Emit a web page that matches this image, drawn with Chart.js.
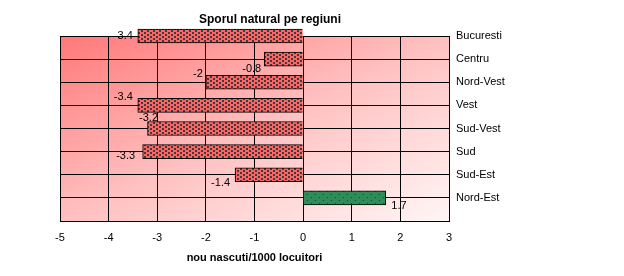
<!DOCTYPE html>
<html>
<head>
<meta charset="utf-8">
<script src="https://cdn.jsdelivr.net/npm/chart.js"></script>
<style>
  html, body { margin: 0; padding: 0; background: #fff; }
</style>
</head>
<body>
<canvas id="chart" width="624" height="276"></canvas>
<script>
// date: spor natural pe regiuni
const regions = ["Bucuresti", "Centru", "Nord-Vest", "Vest", "Sud-Vest", "Sud", "Sud-Est", "Nord-Est"];
const values = [-3.4, -0.8, -2, -3.4, -3.2, -3.3, -1.4, 1.7];
const xMin = -5;
const xMax = 3;
const xStep = 1;

const FONT = '"Liberation Sans", Arial, sans-serif';

// motive de umplere pentru bare
function makePattern(bg, fg, w, h, dots) {
    const c = document.createElement("canvas");
    c.width = w;
    c.height = h;
    const g = c.getContext("2d");
    g.fillStyle = bg;
    g.fillRect(0, 0, w, h);
    g.fillStyle = fg;
    dots.forEach(d => g.fillRect(d[0], d[1], d[2], d[3]));
    return g.createPattern(c, "repeat");
}
const redPattern = makePattern("#ff6464", "#3c3c3c", 6, 4, [[0, 0, 2, 2], [3, 2, 2, 2]]);
const greenPattern = makePattern("#2e8b5a", "#1c4a30", 8, 6, [[3, 2, 1, 1], [7, 5, 1, 1]]);

// fundal in degrade pe zona graficului
const plotBackground = {
    id: "plotBackground",
    beforeDraw(chart) {
        const { ctx, chartArea: a } = chart;
        const w = a.right - a.left, h = a.bottom - a.top;
        const len = Math.sqrt(w * w + h * h);
        const proj = (2 * w * h) / len;
        const g = ctx.createLinearGradient(a.left, a.top,
            a.left + h / len * proj, a.top + w / len * proj);
        g.addColorStop(0, "#ff7878");
        g.addColorStop(0.5, "#ffc0c0");
        g.addColorStop(1, "#fff6f6");
        ctx.save();
        ctx.fillStyle = g;
        ctx.fillRect(a.left, a.top, w, h);
        ctx.restore();
    }
};

// titlul, centrat ca in original (putin spre dreapta fata de zona graficului)
const chartTitle = {
    id: "chartTitle",
    afterDraw(chart, args, opts) {
        const ctx = chart.ctx;
        ctx.save();
        ctx.font = "bold 12px " + FONT;
        ctx.fillStyle = "#000";
        ctx.textAlign = "center";
        ctx.textBaseline = "middle";
        ctx.fillText(opts.text, chart.width / 2 + opts.shift, opts.y);
        ctx.restore();
    }
};

// etichete de valori (desenate sub bare, ca in original)
const valueLabels = {
    id: "valueLabels",
    beforeDatasetsDraw(chart, args, opts) {
        const ctx = chart.ctx;
        const meta = chart.getDatasetMeta(0);
        ctx.save();
        ctx.font = "11px " + FONT;
        ctx.fillStyle = "#000";
        ctx.textBaseline = "middle";
        meta.data.forEach((bar, i) => {
            const v = values[i];
            ctx.textAlign = v < 0 ? "right" : "left";
            ctx.fillText(String(v), bar.x + opts.dx[i], bar.y + opts.dy[i]);
        });
        ctx.restore();
    }
};

new Chart(document.getElementById("chart"), {
    type: "bar",
    data: {
        labels: [...regions, ""],
        datasets: [{
            data: values,
            backgroundColor: ctx => (ctx.raw < 0 ? redPattern : greenPattern),
            borderColor: "#000",
            borderWidth: 1,
            barThickness: 14,
            clip: false
        }]
    },
    options: {
        indexAxis: "y",
        responsive: false,
        animation: false,
        devicePixelRatio: 1,
        layout: { padding: { left: 60, right: 0, top: 36, bottom: 0 } },
        plugins: {
            legend: { display: false },
            tooltip: { enabled: false },
            title: { display: false },
            chartTitle: { text: "Sporul natural pe regiuni", shift: -42, y: 20 },
            valueLabels: {
                dx: [-5, -3, -3, -5, 10.5, -7.5, -5, 5.5],
                dy: [0, 9.5, -8.5, -8.5, -10.5, 4.5, 8.5, 8.5]
            }
        },
        scales: {
            x: {
                type: "linear",
                min: xMin,
                max: xMax,
                ticks: {
                    stepSize: xStep,
                    padding: 10,
                    color: "#000",
                    font: { family: FONT, size: 11 }
                },
                grid: { color: "#000", lineWidth: 1, drawTicks: false },
                border: { color: "#000", width: 1 },
                title: {
                    display: true,
                    text: "nou nascuti/1000 locuitori",
                    color: "#000",
                    font: { family: FONT, size: 11, weight: "bold" },
                    padding: { top: 0, bottom: 11.4 }
                },
                afterFit: s => { s.height = 55; }
            },
            y: {
                type: "category",
                position: "right",
                offset: false,
                ticks: {
                    autoSkip: false,
                    padding: 7,
                    color: "#000",
                    font: { family: FONT, size: 11 }
                },
                grid: { color: "#000", lineWidth: 1, drawTicks: false, offset: false },
                border: { color: "#000", width: 1 },
                afterFit: s => { s.width = 175; }
            }
        }
    },
    plugins: [plotBackground, chartTitle, valueLabels]
});
</script>
</body>
</html>
